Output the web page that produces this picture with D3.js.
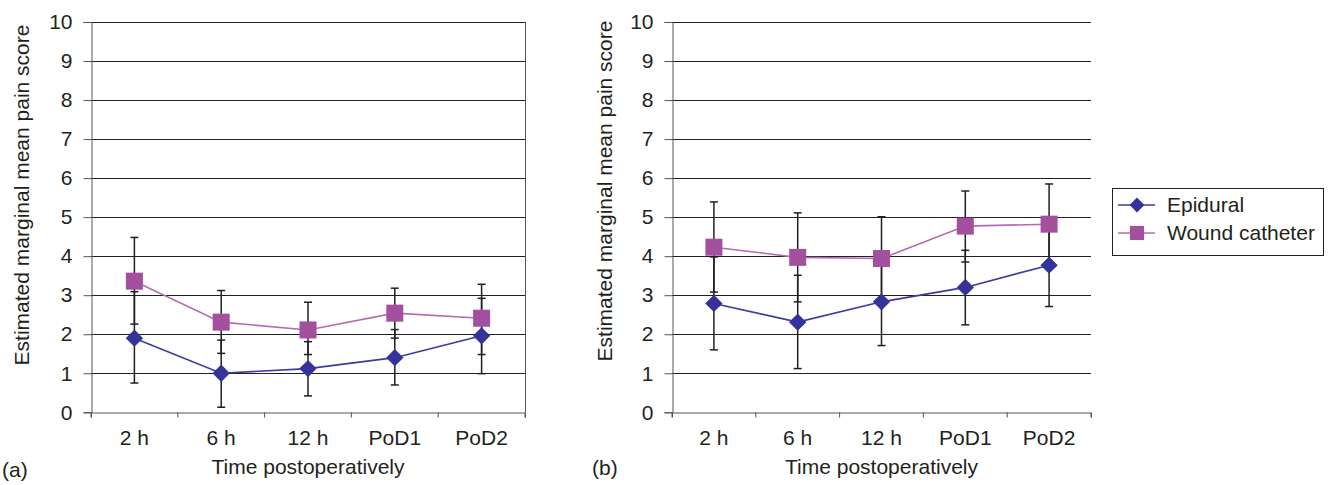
<!DOCTYPE html>
<html>
<head>
<meta charset="utf-8">
<script src="https://cdn.jsdelivr.net/npm/d3@7"></script>
<style>
  body { margin: 0; background: #fff; }
  text { font-family: "Liberation Sans", Arial, sans-serif; fill: #231f20; }
</style>
</head>
<body>
<div id="chart"></div>
<script>
const categories = ['2 h', '6 h', '12 h', 'PoD1', 'PoD2'];
const yTicks = [0, 1, 2, 3, 4, 5, 6, 7, 8, 9, 10];
const seriesNames = ['Epidural', 'Wound catheter'];

// panel (a)
const epiduralA = [1.90, 1.00, 1.12, 1.40, 1.96];
const epiduralALow = [0.75, 0.13, 0.42, 0.70, 0.99];
const epiduralAHigh = [3.09, 1.85, 1.81, 2.12, 2.92];
const woundA = [3.36, 2.31, 2.11, 2.54, 2.41];
const woundALow = [2.26, 1.51, 1.48, 1.90, 1.48];
const woundAHigh = [4.48, 3.12, 2.82, 3.18, 3.28];

// panel (b)
const epiduralB = [2.79, 2.31, 2.83, 3.20, 3.77];
const epiduralBLow = [1.60, 1.12, 1.71, 2.24, 2.71];
const epiduralBHigh = [3.98, 3.51, 3.95, 4.15, 4.83];
const woundB = [4.23, 3.97, 3.94, 4.77, 4.82];
const woundBLow = [3.08, 2.83, 2.87, 3.85, 3.79];
const woundBHigh = [5.39, 5.11, 5.01, 5.67, 5.85];

const width = 1331;
const height = 485;
const fontSize = '21px';
const colors = { epi: '#333399', epiLine: '#3b3ba0', wound: '#a3509f', woundLine: '#b46cb1' };

const svg = d3.select('#chart')
  .append('svg')
  .attr('width', width)
  .attr('height', height);

function makeRows(mean, low, high) {
  return categories.map((c, i) => ({ cat: c, value: mean[i], low: low[i], high: high[i] }));
}

function drawPanel(opts) {
  const x = d3.scaleBand().domain(categories).range([opts.x0, opts.x1]);
  const y = d3.scaleLinear().domain([0, 10]).range([412.3, 22]);
  const g = svg.append('g');

  // gridlines
  g.append('g')
    .selectAll('line')
    .data(yTicks.filter((t) => t > 0))
    .enter()
    .append('line')
    .attr('x1', opts.x0)
    .attr('x2', opts.x1)
    .attr('y1', (d) => Math.round(y(d)) + 0.5)
    .attr('y2', (d) => Math.round(y(d)) + 0.5)
    .attr('stroke', '#231f20')
    .attr('stroke-width', 1.2);

  if (opts.rightBorder) {
    g.append('line')
      .attr('x1', opts.x1 + 0.5).attr('x2', opts.x1 + 0.5)
      .attr('y1', y(10)).attr('y2', y(0))
      .attr('stroke', '#555').attr('stroke-width', 1);
  }

  // y axis
  const yAxis = d3.axisLeft(y).tickValues(yTicks).tickSize(8).tickPadding(11);
  const ya = g.append('g')
    .attr('transform', `translate(${opts.x0 + 0.5},0)`)
    .call(yAxis);
  ya.select('.domain').attr('stroke', '#555');
  ya.selectAll('.tick line').attr('stroke', '#555');
  ya.selectAll('.tick text')
    .style('font-size', fontSize)
    .attr('font-family', null);

  // x axis
  const xAxis = d3.axisBottom(x).tickSize(5).tickPadding(13).tickSizeOuter(5);
  const xa = g.append('g')
    .attr('transform', `translate(0,${Math.round(y(0)) + 0.5})`)
    .call(xAxis);
  xa.select('.domain').attr('stroke', '#555');
  xa.selectAll('.tick line')
    .attr('stroke', '#555')
    .attr('transform', `translate(${-x.bandwidth() / 2},0)`);
  xa.append('line')
    .attr('x1', opts.x1).attr('x2', opts.x1)
    .attr('y1', 0).attr('y2', 5)
    .attr('stroke', '#555');
  xa.selectAll('.tick text')
    .style('font-size', fontSize)
    .attr('font-family', null);

  // axis titles
  g.append('text')
    .attr('transform', `translate(${opts.yTitleX},${opts.yTitleY}) rotate(-90)`)
    .attr('text-anchor', 'middle')
    .style('font-size', fontSize)
    .text('Estimated marginal mean pain score');
  g.append('text')
    .attr('x', (opts.x0 + opts.x1) / 2)
    .attr('y', 474)
    .attr('text-anchor', 'middle')
    .style('font-size', fontSize)
    .text('Time postoperatively');
  g.append('text')
    .attr('x', opts.labelX)
    .attr('y', opts.labelY)
    .style('font-size', fontSize)
    .text(opts.label);

  const cx = (d) => x(d.cat) + x.bandwidth() / 2;
  const series = [
    { rows: opts.epi, color: colors.epi, line: colors.epiLine, shape: 'diamond' },
    { rows: opts.wound, color: colors.wound, line: colors.woundLine, shape: 'square' },
  ];

  const line = d3.line().x(cx).y((d) => y(d.value));
  series.forEach((s) => {
    g.append('path')
      .datum(s.rows)
      .attr('d', line)
      .attr('fill', 'none')
      .attr('stroke', s.line)
      .attr('stroke-width', 1.6);
  });

  series.forEach((s) => {
    const eb = g.append('g').selectAll('g').data(s.rows).enter().append('g');
    eb.append('line')
      .attr('x1', cx).attr('x2', cx)
      .attr('y1', (d) => y(d.low)).attr('y2', (d) => y(d.high))
      .attr('stroke', '#231f20').attr('stroke-width', 1.5);
    ['low', 'high'].forEach((k) => {
      eb.append('line')
        .attr('x1', (d) => cx(d) - 4).attr('x2', (d) => cx(d) + 4)
        .attr('y1', (d) => y(d[k])).attr('y2', (d) => y(d[k]))
        .attr('stroke', '#231f20').attr('stroke-width', 1.5);
    });
  });

  series.forEach((s) => {
    const sym = s.shape === 'diamond'
      ? d3.symbol().type(d3.symbolSquare).size(150)
      : d3.symbol().type(d3.symbolSquare).size(290);
    g.append('g').selectAll('path').data(s.rows).enter()
      .append('path')
      .attr('d', sym)
      .attr('transform', (d) => `translate(${cx(d)},${y(d.value)})${s.shape === 'diamond' ? ' rotate(45)' : ''}`)
      .attr('fill', s.color);
  });
}

drawPanel({
  x0: 91, x1: 525, rightBorder: true,
  epi: makeRows(epiduralA, epiduralALow, epiduralAHigh),
  wound: makeRows(woundA, woundALow, woundAHigh),
  yTitleX: 29, yTitleY: 195, label: '(a)', labelX: 2, labelY: 477,
});

drawPanel({
  x0: 672, x1: 1091, rightBorder: false,
  epi: makeRows(epiduralB, epiduralBLow, epiduralBHigh),
  wound: makeRows(woundB, woundBLow, woundBHigh),
  yTitleX: 612, yTitleY: 191, label: '(b)', labelX: 592, labelY: 475,
});

// legend
const legend = svg.append('g');
legend.append('rect')
  .attr('x', 1112.5).attr('y', 188.5)
  .attr('width', 211).attr('height', 67)
  .attr('fill', '#fff').attr('stroke', '#231f20').attr('stroke-width', 1);
const items = [
  { name: seriesNames[0], color: colors.epi, line: colors.epiLine, shape: 'diamond', y: 205 },
  { name: seriesNames[1], color: colors.wound, line: colors.woundLine, shape: 'square', y: 233 },
];
items.forEach((it) => {
  legend.append('line')
    .attr('x1', 1118).attr('x2', 1155)
    .attr('y1', it.y).attr('y2', it.y)
    .attr('stroke', it.line).attr('stroke-width', 1.6);
  legend.append('path')
    .attr('d', d3.symbol().type(d3.symbolSquare).size(it.shape === 'diamond' ? 110 : 200))
    .attr('transform', `translate(1137,${it.y})${it.shape === 'diamond' ? ' rotate(45)' : ''}`)
    .attr('fill', it.color);
  legend.append('text')
    .attr('x', 1167).attr('y', it.y)
    .attr('dy', '0.35em')
    .style('font-size', fontSize)
    .text(it.name);
});
</script>
</body>
</html>
